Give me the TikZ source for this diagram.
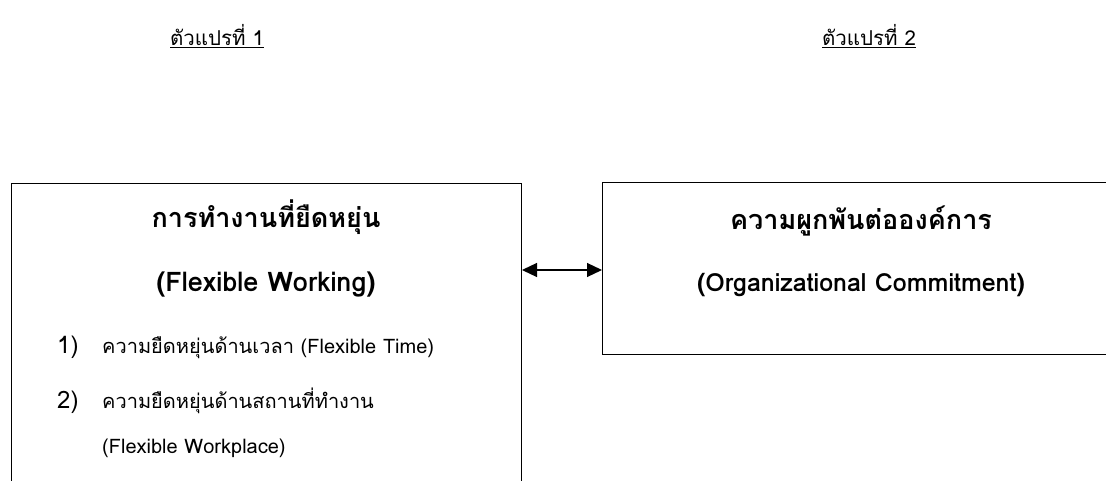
\documentclass[tikz,border=0pt]{standalone}
\usepackage{fontspec}
\setmainfont[Script=Thai]{Loma}
\usetikzlibrary{arrows.meta}
\tikzset{
  box/.style={draw, line width=1pt, rectangle, inner sep=0pt},
  title/.style={font=\fontsize{27}{30}\selectfont\bfseries, anchor=base, inner sep=0pt},
  item/.style={font=\fontsize{20}{23}\selectfont, anchor=base west, inner sep=0pt},
  num/.style={font=\fontsize{24}{27}\selectfont, anchor=base west, inner sep=0pt},
  head/.style={font=\fontsize{20.5}{24}\selectfont, anchor=base, inner sep=0pt},
  link/.style={line width=1.2pt, {Triangle[length=15pt,width=14pt]}-{Triangle[length=15pt,width=14pt]}}
}
\begin{document}
\begin{tikzpicture}[x=1pt,y=-1pt]
\useasboundingbox (0,0) rectangle (1106,481);
\clip (0,0) rectangle (1106,481);
% headers
\node[head] (h1) at (217,46) {\underline{ตัวแปรที่ 1}};
\node[head] (h2) at (869,46) {\underline{ตัวแปรที่ 2}};
% boxes
\node[box, minimum width=510pt, minimum height=330pt, anchor=north west] (lbox) at (11,183) {};
\node[box, minimum width=530pt, minimum height=172pt, anchor=north west] (rbox) at (602,182) {};
% left content
\node[title] (lt1) at (266,228) {การทำงานที่ยืดหยุ่น};
\node[title] (lt2) at (266,291) {(Flexible Working)};
\node[num] (n1) at (57,353) {1)};
\node[item] (i1) at (102,353) {ความยืดหยุ่นด้านเวลา (Flexible Time)};
\node[num] (n2) at (57,408) {2)};
\node[item] (i2) at (102,408) {ความยืดหยุ่นด้านสถานที่ทำงาน};
\node[item] (i3) at (102,453) {(Flexible Workplace)};
% right content
\node[title] (rt1) at (861,230) {ความผูกพันต่อองค์การ};
\node[title, font=\fontsize{25}{28}\selectfont\bfseries] (rt2) at (861,291) {(Organizational Commitment)};
% arrow
\coordinate (ay) at (0,270);
\draw[link] (lbox.east |- ay) -- (rbox.west |- ay);
\end{tikzpicture}
\end{document}
